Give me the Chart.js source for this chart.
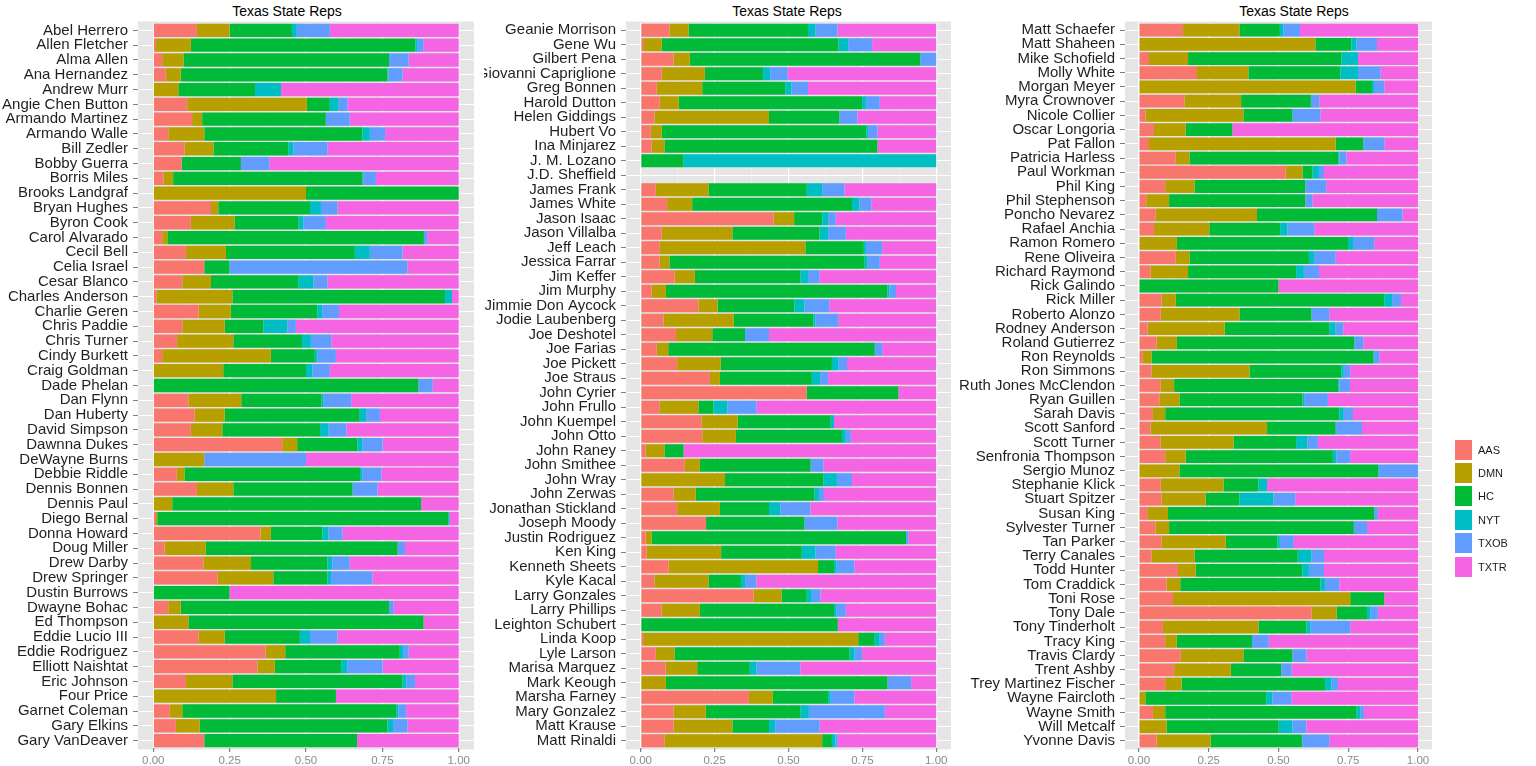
<!DOCTYPE html>
<html>
<head>
<meta charset="utf-8">
<title>Texas State Reps</title>
<script src="https://cdn.jsdelivr.net/npm/chart.js@4"></script>
<style>
  body { margin: 0; background: #fff; width: 1536px; height: 766px; position: relative; overflow: hidden;
         font-family: "Liberation Sans", Arial, sans-serif; }
  canvas { position: absolute; top: 0; }
  .title { position: absolute; top: 3px; font-size: 14px; color: #000; transform: translateX(-50%); white-space: nowrap; }
  #legend { position: absolute; left: 1455px; top: 438px; font-size: 11px; color: #1a1a1a; }
  .key { display: flex; align-items: center; height: 23.4px; }
  .sw { width: 17px; height: 20px; margin-right: 6px; }
</style>
</head>
<body>
<div class="title" style="left:287px">Texas State Reps</div>
<div class="title" style="left:787px">Texas State Reps</div>
<div class="title" style="left:1294px">Texas State Reps</div>
<canvas id="p1" width="480" height="766" style="left:0px"></canvas>
<canvas id="p2" width="476" height="766" style="left:484px"></canvas>
<canvas id="p3" width="576" height="766" style="left:960px"></canvas>
<div id="legend"></div>
<script>
// sources (stacked shares per rep)
var series = ['AAS', 'DMN', 'HC', 'NYT', 'TXOB', 'TXTR'];
var colors = ['#F8766D', '#B79F00', '#00BA38', '#00BFC4', '#619CFF', '#F564E3'];

// panel 1
var names1 = ['Abel Herrero', 'Allen Fletcher', 'Alma Allen', 'Ana Hernandez', 'Andrew Murr', 'Angie Chen Button',
  'Armando Martinez', 'Armando Walle', 'Bill Zedler', 'Bobby Guerra', 'Borris Miles', 'Brooks Landgraf',
  'Bryan Hughes', 'Byron Cook', 'Carol Alvarado', 'Cecil Bell', 'Celia Israel', 'Cesar Blanco',
  'Charles Anderson', 'Charlie Geren', 'Chris Paddie', 'Chris Turner', 'Cindy Burkett', 'Craig Goldman',
  'Dade Phelan', 'Dan Flynn', 'Dan Huberty', 'David Simpson', 'Dawnna Dukes', 'DeWayne Burns',
  'Debbie Riddle', 'Dennis Bonnen', 'Dennis Paul', 'Diego Bernal', 'Donna Howard', 'Doug Miller',
  'Drew Darby', 'Drew Springer', 'Dustin Burrows', 'Dwayne Bohac', 'Ed Thompson', 'Eddie Lucio III',
  'Eddie Rodriguez', 'Elliott Naishtat', 'Eric Johnson', 'Four Price', 'Garnet Coleman', 'Gary Elkins',
  'Gary VanDeaver'];
var aas1 = [.143,.009,.029,.041,0,.111,.127,.049,.102,.093,.033,0,.189,.123,.029,.107,.167,.095,.010,.148,.095,.078,.029,0,0,
  .115,.135,.123,.422,0,.077,.143,0,.009,.351,.037,.164,.210,0,.049,0,.148,.368,.341,.107,0,.054,.074,.167];
var dmn1 = [.107,.114,.070,.049,.082,.392,.033,.118,.095,0,.032,.5,.024,.143,.017,.131,0,.094,.249,.106,.139,.184,.356,.229,0,
  .173,.099,.103,.049,.167,.025,.119,.062,.004,.034,.135,.156,.183,0,.041,.115,.086,.064,.057,.152,.402,.041,.078,0];
var hc1 = [.204,.735,.673,.677,.251,.075,.405,.518,.245,.194,.620,.5,.300,.210,.840,.422,.083,.287,.696,.283,.127,.225,.144,.271,.868,
  .263,.442,.320,.197,0,.575,.390,.815,.954,.169,.628,.250,.177,.25,.682,.770,.246,.375,.217,.557,.196,.700,.615,.5];
var nyt1 = [.016,.006,0,.003,.085,.029,0,.024,.017,0,.002,0,.036,.016,0,.049,0,.048,.023,.016,.078,.029,.008,.021,0,
  .007,.021,.028,.016,0,.007,.002,0,0,.019,0,.016,.012,0,0,0,.033,.011,.020,.012,0,.008,.018,0];
var txob1 = [.108,.021,.064,.046,0,.029,.078,.050,.111,.093,.042,0,.054,.073,.011,.107,.582,.046,0,.055,.028,.067,.061,.057,.047,
  .090,.045,.058,.067,.333,.063,.080,0,.004,.047,.024,.057,.135,0,.015,0,.090,.018,.116,.029,0,.025,.047,0];
var txtr1 = [.422,.115,.164,.184,.582,.364,.357,.241,.430,.620,.271,0,.397,.435,.103,.184,.168,.430,.022,.392,.533,.417,.402,.422,.085,
  .352,.258,.368,.249,.500,.253,.266,.123,.029,.380,.176,.357,.283,.75,.213,.115,.397,.164,.249,.143,.402,.172,.168,.333];

// panel 2
var names2 = ['Geanie Morrison', 'Gene Wu', 'Gilbert Pena', 'Giovanni Capriglione', 'Greg Bonnen', 'Harold Dutton',
  'Helen Giddings', 'Hubert Vo', 'Ina Minjarez', 'J. M. Lozano', 'J.D. Sheffield', 'James Frank', 'James White',
  'Jason Isaac', 'Jason Villalba', 'Jeff Leach', 'Jessica Farrar', 'Jim Keffer', 'Jim Murphy', 'Jimmie Don Aycock',
  'Jodie Laubenberg', 'Joe Deshotel', 'Joe Farias', 'Joe Pickett', 'Joe Straus', 'John Cyrier', 'John Frullo',
  'John Kuempel', 'John Otto', 'John Raney', 'John Smithee', 'John Wray', 'John Zerwas', 'Jonathan Stickland',
  'Joseph Moody', 'Justin Rodriguez', 'Ken King', 'Kenneth Sheets', 'Kyle Kacal', 'Larry Gonzales', 'Larry Phillips',
  'Leighton Schubert', 'Linda Koop', 'Lyle Larson', 'Marisa Marquez', 'Mark Keough', 'Marsha Farney',
  'Mary Gonzalez', 'Matt Krause', 'Matt Rinaldi'];
var aas2 = [.097,.008,.111,.071,.054,.063,.046,.034,.037,0,0,.051,.089,.450,.071,.063,.063,.114,.037,.195,.077,.119,.054,.123,.234,
  .562,.063,.205,.208,.016,.149,0,.111,.123,.221,.016,.020,.094,.046,.382,.071,0,.008,.051,.084,0,.366,.111,.111,.080];
var dmn2 = [.065,.063,.055,.146,.154,.065,.388,.037,.043,0,0,.178,.085,.069,.239,.494,.034,.069,.048,.065,.238,.123,.039,.148,.034,
  0,.132,.123,.114,.064,.051,.285,.075,.145,0,.021,.252,.506,.183,.095,.129,0,.728,.063,.107,.085,.081,.109,.199,.534];
var hc2 = [.404,.598,.780,.197,.281,.621,.238,.692,.721,.145,0,.333,.541,.095,.295,.198,.661,.357,.750,.260,.269,.111,.699,.376,.311,
  .310,.051,.315,.359,.065,.375,.333,.402,.166,.333,.861,.273,.054,.110,.085,.454,.667,.056,.593,.178,.750,.187,.321,.124,.033];
var nyt2 = [.025,.033,0,.024,.021,.013,0,.006,0,.855,0,.052,.025,.020,.029,.007,.010,.026,.007,.034,.007,0,0,.021,.028,
  0,.047,.011,.013,0,0,.046,.015,.038,0,0,.046,.009,.014,.017,.009,0,.017,.017,.023,0,.009,.028,.021,.012];
var txob2 = [.075,.081,.054,.059,.056,.047,.061,.032,0,0,0,.075,.040,.026,.060,.055,.041,.039,.022,.084,.077,.081,.025,.030,.027,
  0,.099,0,.017,0,.043,.051,.017,.102,.112,.008,.069,.060,.038,.029,.031,0,.017,.025,.148,.080,.080,.257,.150,.008];
var txtr2 = [.334,.217,0,.503,.434,.191,.267,.199,.199,0,0,.311,.220,.340,.306,.183,.191,.395,.136,.362,.332,.566,.183,.302,.366,
  .128,.608,.346,.289,.855,.382,.285,.380,.426,.334,.094,.340,.277,.609,.392,.306,.333,.174,.251,.460,.085,.277,.174,.395,.333];

// panel 3
var names3 = ['Matt Schaefer', 'Matt Shaheen', 'Mike Schofield', 'Molly White', 'Morgan Meyer', 'Myra Crownover',
  'Nicole Collier', 'Oscar Longoria', 'Pat Fallon', 'Patricia Harless', 'Paul Workman', 'Phil King',
  'Phil Stephenson', 'Poncho Nevarez', 'Rafael Anchia', 'Ramon Romero', 'Rene Oliveira', 'Richard Raymond',
  'Rick Galindo', 'Rick Miller', 'Roberto Alonzo', 'Rodney Anderson', 'Roland Gutierrez', 'Ron Reynolds',
  'Ron Simmons', 'Ruth Jones McClendon', 'Ryan Guillen', 'Sarah Davis', 'Scott Sanford', 'Scott Turner',
  'Senfronia Thompson', 'Sergio Munoz', 'Stephanie Klick', 'Stuart Spitzer', 'Susan King', 'Sylvester Turner',
  'Tan Parker', 'Terry Canales', 'Todd Hunter', 'Tom Craddick', 'Toni Rose', 'Tony Dale', 'Tony Tinderholt',
  'Tracy King', 'Travis Clardy', 'Trent Ashby', 'Trey Martinez Fischer', 'Wayne Faircloth', 'Wayne Smith',
  'Will Metcalf', 'Yvonne Davis'];
var aas3 = [.158,0,.036,.208,0,.163,.023,.054,.036,.132,.526,.094,.026,.059,.054,0,.132,.041,0,.081,.077,.031,.063,.014,.045,
  .077,.073,.050,.041,.077,.094,0,.077,.081,.032,.059,.081,.045,.140,.099,.122,.618,.086,.094,.150,.126,.094,0,.050,0,.063];
var dmn3 = [.202,.632,.140,.184,.776,.203,.351,.113,.669,.049,.060,.105,.082,.364,.198,.136,.049,.135,0,.051,.283,.276,.073,.031,.351,
  .049,.072,.044,.418,.262,.073,.145,.226,.158,.072,.049,.230,.154,.063,.049,.635,.090,.342,.041,.224,.203,.059,.023,.044,.099,.194];
var hc3 = [.145,.129,.550,.330,.059,.250,.176,.168,.099,.533,.036,.397,.488,.430,.254,.613,.428,.387,.5,.747,.258,.375,.636,.795,.329,
  .588,.441,.624,.246,.224,.528,.713,.125,.121,.739,.662,.185,.370,.383,.502,.122,.109,.172,.270,.176,.181,.514,.433,.686,.402,.327];
var nyt3 = [.013,.018,.059,.063,.007,0,0,0,0,.004,.023,0,0,0,.026,.018,.018,.028,0,.028,0,.023,0,.002,.009,
  .004,.008,.016,0,.041,.012,0,.031,.122,0,0,.009,.049,.023,.017,0,.013,.014,0,0,0,.023,.022,.013,.049,.002];
var txob3 = [.059,.074,0,.081,.037,.030,.100,0,.075,.025,.018,.075,.026,.091,.096,.076,.078,.054,0,.032,.064,.027,.032,.020,.023,
  .038,.083,.033,.094,.037,.050,.142,0,.078,.013,.047,.050,.045,.054,.051,0,.026,.143,.060,.050,.037,.023,.069,.013,.050,.096];
var txtr3 = [.423,.147,.215,.134,.121,.354,.350,.665,.121,.257,.337,.329,.378,.056,.372,.157,.295,.355,.5,.061,.318,.268,.196,.138,.243,
  .244,.323,.233,.201,.359,.243,0,.541,.440,.144,.183,.445,.337,.337,.282,.121,.144,.243,.535,.400,.453,.287,.453,.194,.400,.318];

Chart.defaults.font.family = '"Liberation Sans", Arial, sans-serif';

var isMajor = function (v) {
    return Math.abs(v * 4 - Math.round(v * 4)) < 1e-6;
};

// grey panel, a touch taller than the category band like ggplot's 0.6 expansion
var panelBg = {
    id: 'panelBg',
    beforeDraw: function (chart) {
        var a = chart.chartArea;
        var n = chart.scales.y.getLabels().length;
        var ext = 0.1 * (a.bottom - a.top) / n;
        var ctx = chart.ctx;
        ctx.save();
        ctx.fillStyle = '#E5E5E5';
        ctx.fillRect(a.left, a.top - ext, a.right - a.left, a.bottom - a.top + 2 * ext);
        ctx.restore();
    }
};

function makePanel(id, names, cols, yWidth, padRight) {
    var config = {
        type: 'bar',
        data: {
            labels: names,
            datasets: series.map(function (s, i) {
                return {
                    label: s,
                    data: cols[i],
                    backgroundColor: colors[i],
                    borderWidth: 0,
                    barPercentage: 0.9,
                    categoryPercentage: 1
                };
            })
        },
        options: {
            indexAxis: 'y',
            responsive: false,
            animation: false,
            layout: { padding: { top: 23, right: padRight, left: 0, bottom: 0 } },
            plugins: { legend: { display: false }, tooltip: { enabled: false }, title: { display: false } },
            scales: {
                x: {
                    type: 'linear',
                    stacked: true,
                    min: -0.05,
                    max: 1.05,
                    afterBuildTicks: function (s) {
                        s.ticks = [0, .125, .25, .375, .5, .625, .75, .875, 1].map(function (v) { return { value: v }; });
                    },
                    afterFit: function (s) { s.height = 18; },
                    border: { display: false },
                    grid: {
                        color: function (c) { return isMajor(c.tick.value) ? '#ffffff' : '#F2F2F2'; },
                        lineWidth: function (c) { return isMajor(c.tick.value) ? 1.2 : 0.6; },
                        tickColor: function (c) { return isMajor(c.tick.value) ? '#7f7f7f' : 'rgba(0,0,0,0)'; },
                        tickLength: 4
                    },
                    ticks: {
                        autoSkip: false,
                        maxRotation: 0,
                        padding: 2,
                        color: '#8a8a8a',
                        font: { size: 11.5 },
                        callback: function (v) { return isMajor(v) ? v.toFixed(2) : ''; }
                    }
                },
                y: {
                    type: 'category',
                    stacked: true,
                    offset: true,
                    afterFit: function (s) { s.width = yWidth; },
                    border: { display: false },
                    grid: { color: '#ffffff', offset: false, lineWidth: 1, tickColor: '#7f7f7f', tickLength: 5 },
                    ticks: { autoSkip: false, padding: 5, color: '#1f1f1f', font: { size: 15 } }
                }
            }
        },
        plugins: [panelBg]
    };
    return new Chart(document.getElementById(id).getContext('2d'), config);
}

window.panel1 = makePanel('p1', names1, [aas1, dmn1, hc1, nyt1, txob1, txtr1], 138, 6);
window.panel2 = makePanel('p2', names2, [aas2, dmn2, hc2, nyt2, txob2, txtr2], 142, 9);
window.panel3 = makePanel('p3', names3, [aas3, dmn3, hc3, nyt3, txob3, txtr3], 165, 104);

// legend
var legend = document.getElementById('legend');
series.forEach(function (s, i) {
    var row = document.createElement('div');
    row.className = 'key';
    row.innerHTML = '<div class="sw" style="background:' + colors[i] + '"></div><span>' + s + '</span>';
    legend.appendChild(row);
});
</script>
</body>
</html>
